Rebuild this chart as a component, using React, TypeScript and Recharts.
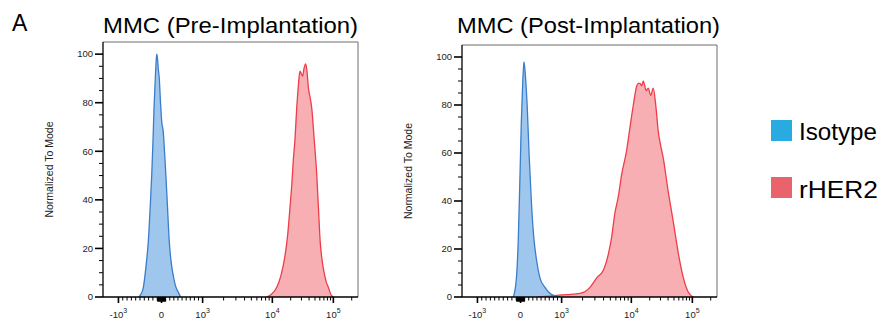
import { Area, AreaChart, ReferenceLine, XAxis, YAxis } from "recharts"

// histogram points: [display channel (0-1024), % of mode]
const PRE_ISOTYPE = [
    [145, 0], [151, 1], [162, 4], [172, 12], [182, 23], [190, 38], [196, 51], [201, 65],
    [205, 78], [210, 90], [214, 98], [216, 100], [219, 98], [222, 94], [226, 90], [231, 80],
    [236, 72], [242, 68], [247, 60], [252, 51], [259, 37], [266, 23], [273, 15], [280, 10],
    [290, 5], [302, 2], [312, 0],
]

const PRE_RHER2 = [
    [657, 0], [675, 1], [698, 4], [715, 9], [731, 17], [742, 26], [751, 37], [758, 46],
    [764, 56], [771, 65], [778, 78], [783, 85], [787, 90], [791, 93], [796, 92], [802, 91],
    [807, 94], [814, 96], [819, 93], [825, 86], [832, 82], [838, 78], [848, 65], [858, 51],
    [865, 37], [872, 23], [880, 15], [888, 10], [897, 6], [905, 4], [915, 1], [925, 0],
]

const POST_ISOTYPE = [
    [205, 0], [209, 1], [220, 10], [226, 24], [233, 51], [238, 72], [244, 90], [249, 98],
    [254, 93], [262, 79], [270, 58], [280, 37], [289, 24], [300, 15], [313, 8], [333, 4],
    [360, 1], [394, 0],
]

const POST_RHER2 = [
    [305, 0], [360, 0.5], [420, 1], [474, 1.5], [514, 4], [541, 8], [567, 11], [588, 18],
    [601, 25], [614, 35], [628, 42], [641, 51], [661, 61], [675, 71], [688, 80], [702, 88],
    [708, 89], [715, 89], [722, 88], [728, 90], [734, 88], [739, 86], [748, 87], [758, 84],
    [768, 87], [779, 79], [788, 69], [798, 63], [808, 58], [828, 44], [849, 31], [869, 18],
    [889, 8], [909, 2], [929, 0],
]

const X_LABELS = [
    { value: -1000, base: "-10", exp: "3" },
    { value: 0, base: "0", exp: "" },
    { value: 1000, base: "10", exp: "3" },
    { value: 10000, base: "10", exp: "4" },
    { value: 100000, base: "10", exp: "5" },
]

const X_MINOR = [
    -900, -800, -700, -600, -500, -400, -300, -200, -100,
    100, 200, 300, 400, 500, 600, 700, 800, 900,
    2000, 3000, 4000, 5000, 6000, 7000, 8000, 9000,
    20000, 30000, 40000, 50000, 60000, 70000, 80000, 90000, 200000,
]

// the dense block of ticks around zero
const X_NEAR_ZERO = [-90, -80, -70, -60, -50, -40, -30, -20, -10, 10, 20, 30, 40, 50, 60, 70, 80, 90]

const Y_TICKS = [0, 5, 10, 15, 20, 25, 30, 35, 40, 45, 50, 55, 60, 65, 70, 75, 80, 85, 90, 95, 100]
const Y_LABELED = [0, 20, 40, 60, 80, 100]

const COLORS = {
    isoLine: "#3a7dcc",
    isoFill: "#3f8fdb",
    herLine: "#ee3d49",
    herFill: "#ef5f68",
    isoKey: "#29abe2",
    herKey: "#e8636b",
}

// biexponential-ish display transform of the cytometer axis
function toChannel(v: number) {
    if (v <= 0) return 235 + (v / 1000) * 173
    if (v <= 1000) return 235 + (v / 1000) * 165
    if (v <= 10000) return 400 + Math.log10(v / 1000) * 280
    return 680 + Math.log10(v / 10000) * 245
}

const X_TICKS = [...X_LABELS.map((l) => l.value), ...X_MINOR, ...X_NEAR_ZERO]
    .map(toChannel)
    .sort((a, b) => a - b)

const toPoints = (rows: number[][]) => rows.map(([x, y]) => ({ x, y }))

function XTick({ x, y, payload }: any) {
    const label = X_LABELS.find((l) => Math.abs(toChannel(l.value) - payload.value) < 0.01)
    const nearZero = Math.abs(payload.value - toChannel(0)) < 17
    const len = label ? 6 : nearZero ? 4.5 : 3.5
    return (
        <g>
            <line x1={x} x2={x} y1={y} y2={y + len} stroke="#000" strokeWidth={label ? 1.6 : 1} />
            {label && (
                <text x={x} y={y + 21} textAnchor="middle" fontSize={9.5} fill="#222">
                    <tspan>{label.base}</tspan>
                    {label.exp && (
                        <tspan dy={-5} fontSize={7}>
                            {label.exp}
                        </tspan>
                    )}
                </text>
            )}
        </g>
    )
}

function YTick({ x, y, payload }: any) {
    const major = Y_LABELED.includes(payload.value)
    return (
        <g>
            <line x1={x - (major ? 8 : 4)} x2={x} y1={y} y2={y} stroke="#000" strokeWidth={major ? 1.6 : 1} />
            {major && (
                <text x={x - 10} y={y} dy={3.3} textAnchor="end" fontSize={9.5} fill="#222">
                    {payload.value}
                </text>
            )}
        </g>
    )
}

function AxisTitle({ viewBox }: any) {
    const cx = viewBox.x + 5.5
    const cy = viewBox.y + viewBox.height / 2
    return (
        <text
            x={cx}
            y={cy}
            transform={`rotate(-90 ${cx} ${cy})`}
            textAnchor="middle"
            dominantBaseline="central"
            fontSize={10.5}
            fill="#222"
        >
            Normalized To Mode
        </text>
    )
}

interface HistogramProps {
    isotype: number[][]
    rher2: number[][]
    left: number
    width: number
    margin: { top: number; right: number; bottom: number; left: number }
}

function Histogram({ isotype, rher2, left, width, margin }: HistogramProps) {
    return (
        <div style={{ position: "absolute", left, top: 0 }}>
            <AreaChart width={width} height={327} margin={margin}>
                <XAxis
                    type="number"
                    dataKey="x"
                    domain={[0, 1024]}
                    ticks={X_TICKS}
                    interval={0}
                    tick={<XTick />}
                    tickLine={false}
                    tickSize={0}
                    tickMargin={0}
                    height={30}
                    axisLine={{ stroke: "#000", strokeWidth: 1.3 }}
                    allowDataOverflow
                />
                <YAxis
                    type="number"
                    domain={[0, 105]}
                    ticks={Y_TICKS}
                    interval={0}
                    tick={<YTick />}
                    tickLine={false}
                    tickSize={0}
                    tickMargin={0}
                    width={60}
                    axisLine={{ stroke: "#000", strokeWidth: 1.3 }}
                    label={<AxisTitle />}
                    allowDataOverflow
                />
                <ReferenceLine y={105} stroke="#6d6d6d" />
                <ReferenceLine x={1024} stroke="#6d6d6d" />
                <Area
                    data={toPoints(rher2)}
                    dataKey="y"
                    type="monotone"
                    stroke={COLORS.herLine}
                    strokeWidth={1.3}
                    fill={COLORS.herFill}
                    fillOpacity={0.5}
                    isAnimationActive={false}
                />
                <Area
                    data={toPoints(isotype)}
                    dataKey="y"
                    type="monotone"
                    stroke={COLORS.isoLine}
                    strokeWidth={1.3}
                    fill={COLORS.isoFill}
                    fillOpacity={0.5}
                    isAnimationActive={false}
                />
            </AreaChart>
        </div>
    )
}

export default function App() {
    return (
        <div
            style={{
                position: "absolute",
                left: 0,
                top: 0,
                width: 888,
                height: 327,
                background: "#fff",
                fontFamily: "'Liberation Sans', Arial, sans-serif",
            }}
        >
            <Histogram
                isotype={PRE_ISOTYPE}
                rher2={PRE_RHER2}
                left={0}
                width={370}
                margin={{ top: 42, right: 12, bottom: 0, left: 43 }}
            />
            <Histogram
                isotype={POST_ISOTYPE}
                rher2={POST_RHER2}
                left={370}
                width={360}
                margin={{ top: 45, right: 13, bottom: 0, left: 32 }}
            />
            <svg width={888} height={327} style={{ position: "absolute", left: 0, top: 0, pointerEvents: "none" }}>
                <text x={12} y={31} fontSize={23} fill="#000">
                    A
                </text>
                <text x={103} y={33} fontSize={22} fill="#000" textLength={255} lengthAdjust="spacingAndGlyphs">
                    MMC (Pre-Implantation)
                </text>
                <text x={457} y={33} fontSize={22} fill="#000" textLength={263} lengthAdjust="spacingAndGlyphs">
                    MMC (Post-Implantation)
                </text>
                <rect x={771} y={120} width={21} height={21} fill={COLORS.isoKey} />
                <text x={799} y={140} fontSize={24} fill="#000" textLength={78} lengthAdjust="spacingAndGlyphs">
                    Isotype
                </text>
                <rect x={771} y={177} width={21} height={21} fill={COLORS.herKey} />
                <text x={799} y={198} fontSize={24} fill="#000" textLength={79} lengthAdjust="spacingAndGlyphs">
                    rHER2
                </text>
            </svg>
        </div>
    )
}
